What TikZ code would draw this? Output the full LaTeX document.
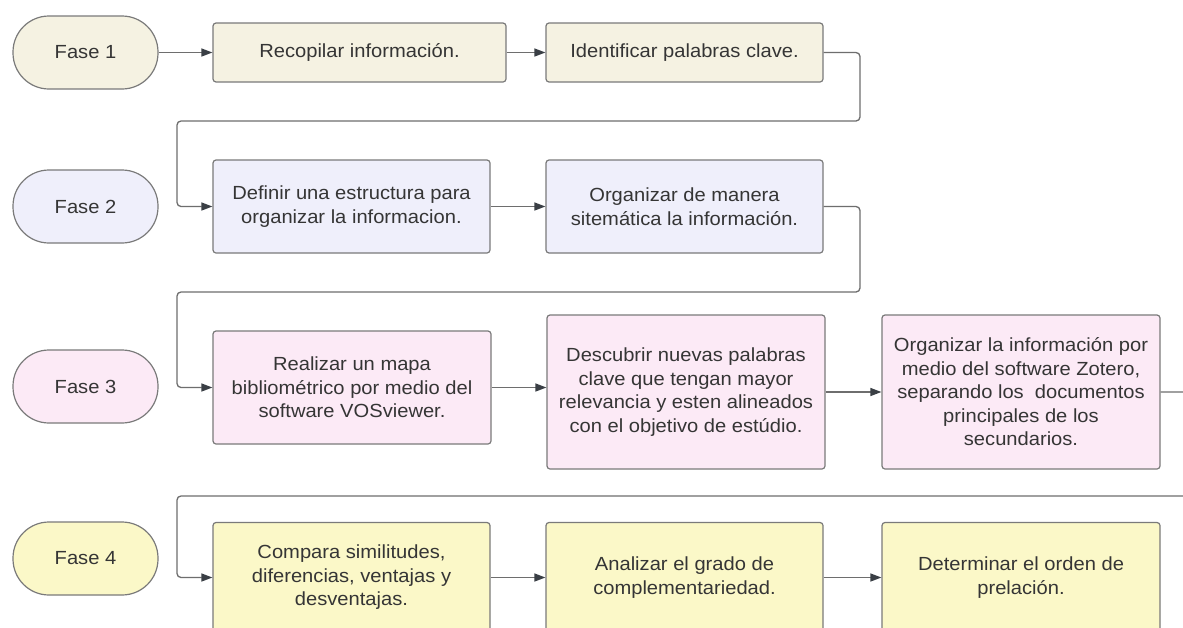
\documentclass[tikz,border=0pt]{standalone}
\usepackage{fontspec}
\setmainfont[FakeStretch=1.06]{Liberation Sans}
\usetikzlibrary{arrows.meta}
\definecolor{cA}{HTML}{F5F2E2}
\definecolor{cB}{HTML}{EFEFFB}
\definecolor{cC}{HTML}{FCEAF6}
\definecolor{cD}{HTML}{FBF8C8}
\definecolor{txt}{HTML}{353535}
\definecolor{bord}{HTML}{7A7A7A}
\definecolor{wire}{HTML}{6E6E6E}
\definecolor{tip}{HTML}{3A3F45}
\tikzset{
  box/.style={draw=bord, line width=1.2pt, rounded corners=3pt, align=center,
    text=txt, font=\fontsize{19}{23.5}\selectfont, inner sep=0pt},
  phase/.style={draw=bord, line width=1.2pt, rounded corners=36pt, text=txt,
    font=\fontsize{19}{23.5}\selectfont, minimum width=145pt, minimum height=73pt, inner sep=0pt},
  arr/.style={draw=wire, line width=1.3pt, rounded corners=4pt,
    -{Triangle[length=11pt,width=8pt,color=tip]}},
  wireline/.style={draw=wire, line width=1.3pt, rounded corners=4pt}
}
\begin{document}
\begin{tikzpicture}[x=1pt,y=-1pt]
\useasboundingbox (0,0) rectangle (1183,627);
\clip (0,0) rectangle (1183,627);
\fill[white] (0,0) rectangle (1183,627);

% Fase 1
\node[phase, fill=cA] (f1) at (85.5,52.5) {Fase 1};
\node[box, fill=cA, minimum width=293pt, minimum height=59pt] (r1a) at (359.5,52.5) {Recopilar información.};
\node[box, fill=cA, minimum width=277pt, minimum height=59pt] (r1b) at (684.5,52.5) {Identificar palabras clave.};

% Fase 2
\node[phase, fill=cB] (f2) at (85.5,206.5) {Fase 2};
\node[box, fill=cB, minimum width=277pt, minimum height=93pt] (r2a) at (351.5,206.5) {Definir una estructura para\\organizar la informacion.};
\node[box, fill=cB, minimum width=277pt, minimum height=93pt] (r2b) at (684.5,206.5) {Organizar de manera\\sitemática la información.};

% Fase 3
\node[phase, fill=cC] (f3) at (85.5,386.5) {Fase 3};
\node[box, fill=cC, minimum width=278pt, minimum height=113pt] (r3a) at (352,387.5) {Realizar un mapa\\bibliométrico por medio del\\software VOSviewer.};
\node[box, fill=cC, minimum width=278pt, minimum height=154pt] (r3b) at (686,392) {Descubrir nuevas palabras\\clave que tengan mayor\\relevancia y esten alineados\\con el objetivo de estúdio.};
\node[box, fill=cC, minimum width=278pt, minimum height=154pt] (r3c) at (1021,392) {Organizar la información por\\medio del software Zotero,\\separando los\ \ documentos\\principales de los\\secundarios.};

% Fase 4
\node[phase, fill=cD] (f4) at (85.5,558.5) {Fase 4};
\node[box, fill=cD, minimum width=277pt, minimum height=110pt] (r4a) at (351.5,577.5) {Compara similitudes,\\diferencias, ventajas y\\desventajas.};
\node[box, fill=cD, minimum width=277pt, minimum height=110pt] (r4b) at (684.5,577.5) {Analizar el grado de\\complementariedad.};
\node[box, fill=cD, minimum width=278pt, minimum height=110pt] (r4c) at (1021,577.5) {Determinar el orden de\\prelación.};

% bend points
\coordinate (k1) at (860,121);
\coordinate (k2) at (177,121);
\coordinate (k3) at (860,292);
\coordinate (k4) at (177,292);
\coordinate (k5) at (1200,496);
\coordinate (k6) at (177,496);

% connectors
\draw[arr] (f1.east) -- (r1a.west);
\draw[arr] (r1a.east) -- (r1b.west);
\draw[arr] (r1b.east) -| (k1) -- (k2) |- (r2a.west);
\draw[arr] (r2a.east) -- (r2b.west);
\draw[arr] (r2b.east) -| (k3) -- (k4) |- (r3a.west);
\draw[arr] (r3a.east) -- (r3a.east -| r3b.west);
\draw[arr] (r3b.east) -- (r3c.west);
\draw[arr] (r3c.east) -| (k5) -- (k6) |- (r4a.west);
\draw[arr] (r4a.east) -- (r4b.west);
\draw[arr] (r4b.east) -- (r4c.west);
\end{tikzpicture}
\end{document}
